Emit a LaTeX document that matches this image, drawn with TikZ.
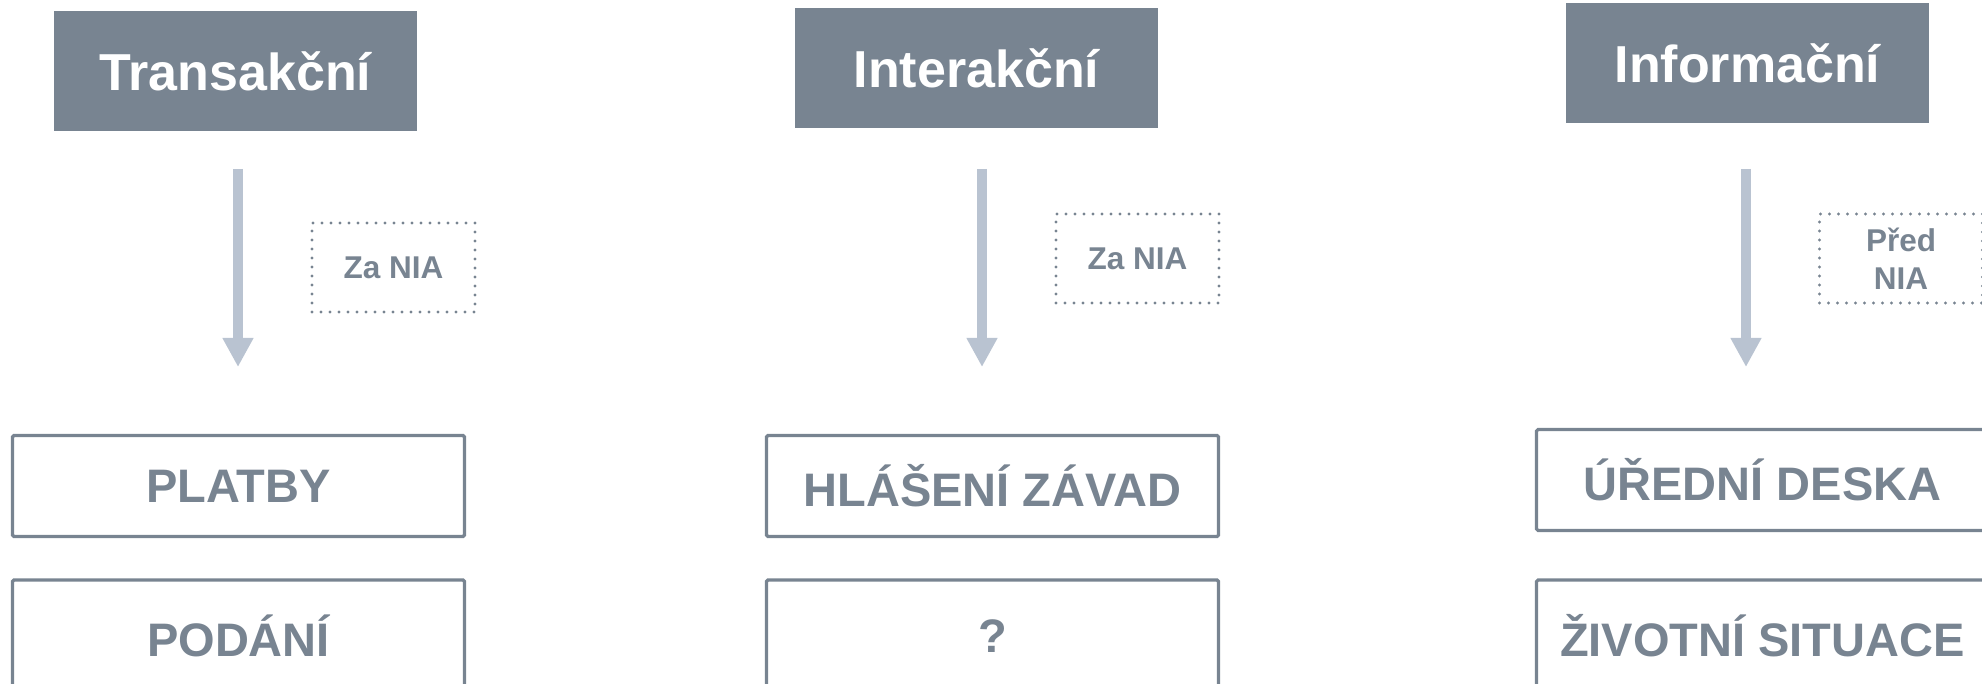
\documentclass[tikz,border=0pt]{standalone}
\usepackage{fontspec}
\setmainfont{Liberation Sans}
\usepackage{xcolor}
\usetikzlibrary{arrows.meta}
\definecolor{slate}{RGB}{120,132,145}
\definecolor{paleblue}{RGB}{185,195,209}

\begin{document}
\begin{tikzpicture}[x=1pt,y=-1pt,
  header/.style={fill=slate,text=white,minimum width=363pt,minimum height=120pt,inner sep=0pt,font=\fontsize{52}{62}\selectfont\bfseries},
  service/.style={draw=slate,line width=3.2pt,rounded corners=1.5pt,text=slate,minimum width=452pt,minimum height=101pt,inner sep=0pt,font=\fontsize{47}{56}\selectfont\bfseries},
  lowservice/.style={service,minimum height=112pt},
  note/.style={draw=slate,line width=3.4pt,line cap=round,dash pattern=on 0pt off 9pt,text=slate,minimum width=163pt,minimum height=89pt,inner sep=0pt,align=center,font=\fontsize{31.5}{38}\selectfont\bfseries},
  flow/.style={draw=paleblue,line width=10pt,-{Triangle[width=29pt,length=29pt]}}]
\useasboundingbox (0,0) rectangle (1982,684);

\node[header] (trans) at (235.5,71.5) {Transakční};
\node[header] (inter) at (976.5,68) {Interakční};
\node[header] (info) at (1747.5,63) {Informační};

\coordinate (transtop) at (238,169);
\coordinate (transend) at (238,367);
\coordinate (intertop) at (982,169);
\coordinate (interend) at (982,367);
\coordinate (infotop) at (1746,169);
\coordinate (infoend) at (1746,367);

\draw[flow] (transtop) -- (transend);
\draw[flow] (intertop) -- (interend);
\draw[flow] (infotop) -- (infoend);

\node[note] (transnote) at (393.5,267.5) {Za NIA};
\node[note] (internote) at (1137.5,258.5) {Za NIA};
\node[note] (infonote) at (1901,258.5) {Před\\NIA};

\node[service] (platby) at (238.5,486) {PLATBY};
\node[lowservice] (podani) at (238.5,636) {PODÁNÍ};
\node[service] (zavady) at (992.5,486) {HLÁŠENÍ ZÁVAD};
\node[lowservice] (otazka) at (992.5,636) {?};
\node[service] (deska) at (1762.5,480) {ÚŘEDNÍ DESKA};
\node[lowservice] (situace) at (1762.5,636) {ŽIVOTNÍ SITUACE};
\end{tikzpicture}
\end{document}
